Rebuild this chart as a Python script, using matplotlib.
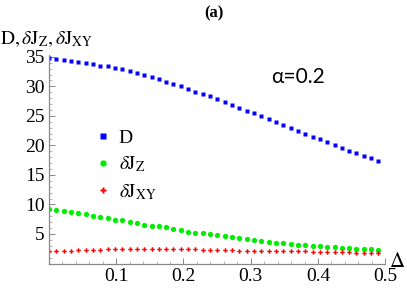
import numpy as np
import matplotlib
matplotlib.use("Agg")
import matplotlib.pyplot as plt
from matplotlib.ticker import MultipleLocator, FixedLocator

plt.rcParams['font.family'] = ['Liberation Serif', 'DejaVu Serif']
plt.rcParams['mathtext.fontset'] = 'stix'

# values (46 points, delta from 0 to 0.49)
D = [34.8, 34.6, 34.5, 34.3, 34.2, 34.0, 33.8, 33.5, 33.4, 33.1, 32.9, 32.6,
     32.3, 31.9, 31.6, 31.3, 30.8, 30.4, 30.0, 29.5, 29.1, 28.7, 28.3, 27.8,
     27.4, 26.9, 26.4, 25.9, 25.4, 25.0, 24.5, 24.0, 23.5, 22.9, 22.5, 21.9,
     21.5, 21.0, 20.5, 20.0, 19.5, 19.1, 18.7, 18.2, 17.8, 17.3]
dJz = [9.2, 9.0, 8.9, 8.7, 8.5, 8.3, 8.1, 7.9, 7.7, 7.4, 7.3, 7.1, 6.9, 6.6,
       6.4, 6.3, 6.1, 5.8, 5.7, 5.4, 5.2, 5.1, 5.0, 4.8, 4.7, 4.5, 4.3, 4.2,
       4.0, 3.8, 3.7, 3.5, 3.4, 3.3, 3.2, 3.1, 3.0, 2.9, 2.85, 2.75, 2.6, 2.55,
       2.5, 2.45, 2.4, 2.35]
dJxy = [2.1, 2.2, 2.2, 2.2, 2.3, 2.3, 2.3, 2.3, 2.4, 2.4, 2.4, 2.5, 2.5, 2.5,
        2.5, 2.5, 2.5, 2.5, 2.5, 2.4, 2.4, 2.3, 2.3, 2.3, 2.3, 2.3, 2.2, 2.2,
        2.2, 2.2, 2.2, 2.2, 2.1, 2.1, 2.1, 2.1, 2.0, 2.0, 1.95, 1.95, 1.9, 1.9,
        1.85, 1.8, 1.8, 1.75]
delta = np.linspace(0, 0.49, len(D))

xticks = [0.1, 0.2, 0.3, 0.4, 0.5]
yticks = [5, 10, 15, 20, 25, 30, 35]

fig = plt.figure(figsize=(4.07, 2.88), dpi=100)
ax = fig.add_axes([0.1204, 0.085, 0.826, 0.724])

ax.plot(delta, D, ls='none', marker='s', ms=3.2, color='#0000ff', mec='none', label='D')
ax.plot(delta, dJz, ls='none', marker='o', ms=3.8, color='#00ee00', mec='none',
        label=r'$\delta\mathrm{J}_\mathrm{Z}$')
ax.plot(delta, dJxy, ls='none', marker='P', ms=3.2, color='#ff0000', mec='none',
        label=r'$\delta\mathrm{J}_\mathrm{XY}$')

ax.set_xlim(0, 0.5)
ax.set_ylim(0, 35.3)
ax.xaxis.set_major_locator(FixedLocator(xticks))
ax.yaxis.set_major_locator(FixedLocator(yticks))
ax.xaxis.set_minor_locator(MultipleLocator(0.02))
ax.yaxis.set_minor_locator(MultipleLocator(1))
ax.set_xticklabels(['0.1', '0.2', '0.3', '0.4', '0.5'], family='Liberation Serif')
ax.set_yticklabels([str(t) for t in yticks], family='Liberation Serif')

for s in ['top', 'right']:
    ax.spines[s].set_visible(False)
for s in ['left', 'bottom']:
    ax.spines[s].set_color('#888888')
    ax.spines[s].set_linewidth(0.9)
ax.tick_params(which='major', direction='in', length=4, width=0.7, color='#888888',
               labelsize=14, pad=3)
ax.tick_params(which='minor', direction='in', length=2, width=0.5, color='#999999')

ax.legend(loc='upper left', bbox_to_anchor=(0.115, 0.69), frameon=False, fontsize=14,
          handlelength=0.6, handletextpad=0.5, labelspacing=0.4, markerscale=1.2,
          borderpad=0)

fig.text(0.0, 0.845, r'$\mathrm{D},\delta\mathrm{J}_\mathrm{Z},\delta\mathrm{J}_\mathrm{XY}$',
         fontsize=14, ha='left', va='baseline')
fig.text(0.957, 0.072, r'$\Delta$', fontsize=15, ha='left', va='baseline')
fig.text(0.526, 0.955, '(a)', fontsize=12, fontweight='bold', ha='center', va='center')
fig.text(0.732, 0.733, 'α=0.2', fontsize=15, family=['Lato', 'DejaVu Sans'],
         ha='center', va='center')

fig.savefig('out.png', dpi=100)
